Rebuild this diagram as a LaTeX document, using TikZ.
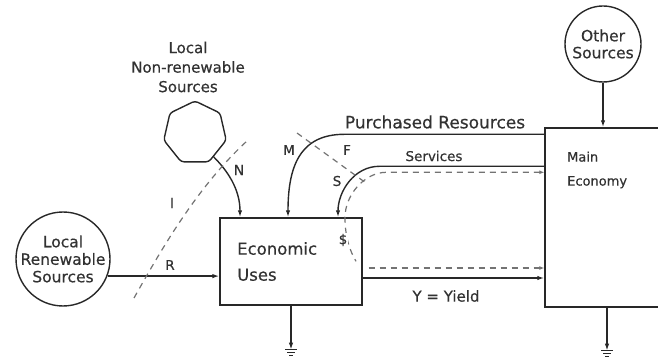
\documentclass[tikz,border=0pt]{standalone}
\usepackage{fontspec}
\setmainfont{DejaVu Sans}[UprightFeatures={FakeBold=0.5}]
\usetikzlibrary{arrows.meta,shapes.geometric,calc}
\definecolor{ink}{RGB}{40,40,40}
\definecolor{dashc}{RGB}{115,115,115}
\definecolor{txt}{RGB}{50,50,50}
\begin{document}
\begin{tikzpicture}[x=1pt,y=-1pt,
  line/.style={draw=ink, line width=1.4pt},
  flow/.style={line, -{Latex[length=7pt,width=4.5pt]}},
  money/.style={draw=dashc, line width=1.2pt, dash pattern=on 6pt off 5pt},
  lbl/.style={text=txt, font=\fontsize{13.5}{13.5}\selectfont, inner sep=0pt},
  big/.style={text=txt, align=center, inner sep=0pt},
  sinkpic/.pic={\draw[ink, line width=1.3pt] (-6,0)--(6,0) (-4,3)--(4,3) (-2,6)--(2,6);}
]
\useasboundingbox (0,0) rectangle (658,363);
\clip (0,0) rectangle (658,363);

% nodes
\node[circle, line, minimum size=94pt, inner sep=0pt] (lrs) at (63,259) {};
\node[big, font=\fontsize{15.5}{17.5}\selectfont] (lrst) at (63,259) {Local\\Renewable\\Sources};

\node[regular polygon, regular polygon sides=7, line, rounded corners=3pt, minimum size=64pt, inner sep=0pt] (nrs) at (195,133) {};
\node[big, font=\fontsize{15}{19.5}\selectfont] (nrst) at (188,67) {Local\\Non-renewable\\Sources};

\node[rectangle, line, minimum width=142pt, minimum height=87pt, inner sep=0pt] (eu) at (291,261.5) {};
\node[big, align=left, anchor=west, font=\fontsize{16.5}{26}\selectfont] (eut) at (237,261.5) {Economic\\Uses};

\node[rectangle, line, minimum width=124pt, minimum height=179pt, inner sep=0pt] (me) at (607,217.5) {};
\node[big, align=left, anchor=west, font=\fontsize{13}{24}\selectfont] (met) at (567,170) {Main\\Economy};

\node[circle, line, minimum size=76pt, inner sep=0pt] (os) at (603,44) {};
\node[big, font=\fontsize{15.5}{17}\selectfont] (ost) at (603,44) {Other\\Sources};

% connectors
\draw[flow] (lrs.-21) -- (lrs.-21 -| eu.west);
\draw[flow] (nrs.-52) .. controls +(14,14) and +(0,-28) .. ([xshift=-51pt]eu.north);
\draw[flow] ([yshift=-7pt]me.north west) -- ++(-200,0) .. controls +(-45,0) and +(0,-50) .. ([xshift=-3pt]eu.north);
\draw[flow] ([yshift=-39pt]me.north west) -- ++(-165,0) .. controls +(-25,0) and +(0,-26) .. ([xshift=47pt]eu.north);
\draw[money, {Latex[length=5pt,width=4pt]}-] ([yshift=-45pt]me.north west) -- ++(-158,0) .. controls +(-22,0) and +(0,-22) .. ([xshift=54pt]eu.north) .. controls +(0,20) and +(-6,-10) .. ++(11,44);
\draw[money, -{Latex[length=5pt,width=4pt]}] ([xshift=6pt,yshift=-6.5pt]eu.east) -- ([yshift=-6.5pt]eu.east -| me.west);
\draw[flow] ([yshift=-16.5pt]eu.east) -- ([yshift=-16.5pt]eu.east -| me.west);
\draw[flow] (os.south) -- (os.south |- me.north);

% heat sinks
\draw[flow] (eu.south) -- ++(0,44) coordinate (g1);
\pic at (g1) {sinkpic};
\draw[flow] (me.south) -- ++(0,43) coordinate (g2);
\pic at (g2) {sinkpic};

% boundaries
\coordinate (i1) at (134,298);
\coordinate (i2) at (247,141);
\draw[money] (i1) .. controls (160,252) and (196,188) .. (i2);
\coordinate (b1) at (297,133);
\coordinate (b2) at (366,183);
\draw[money] (b1) -- (b2);

% labels
\node[lbl] (lR) at (170,265) {R};
\node[lbl, font=\fontsize{14}{14}\selectfont] (lN) at (239,170) {N};
\node[lbl, font=\fontsize{14}{14}\selectfont] (lI) at (172,203) {I};
\node[lbl] (lM) at (289,150) {M};
\node[lbl] (lF) at (347,150) {F};
\node[lbl] (lS) at (337,181) {S};
\node[lbl, fill=white, inner sep=1pt] (lD) at (343,240) {\$};
\node[lbl, font=\fontsize{15}{15}\selectfont] (lY) at (446,296) {Y = Yield};
\node[lbl, font=\fontsize{17}{17}\selectfont] (lPR) at (435,122) {Purchased Resources};
\node[lbl, font=\fontsize{13.5}{13.5}\selectfont] (lSv) at (434,156) {Services};
\end{tikzpicture}
\end{document}
